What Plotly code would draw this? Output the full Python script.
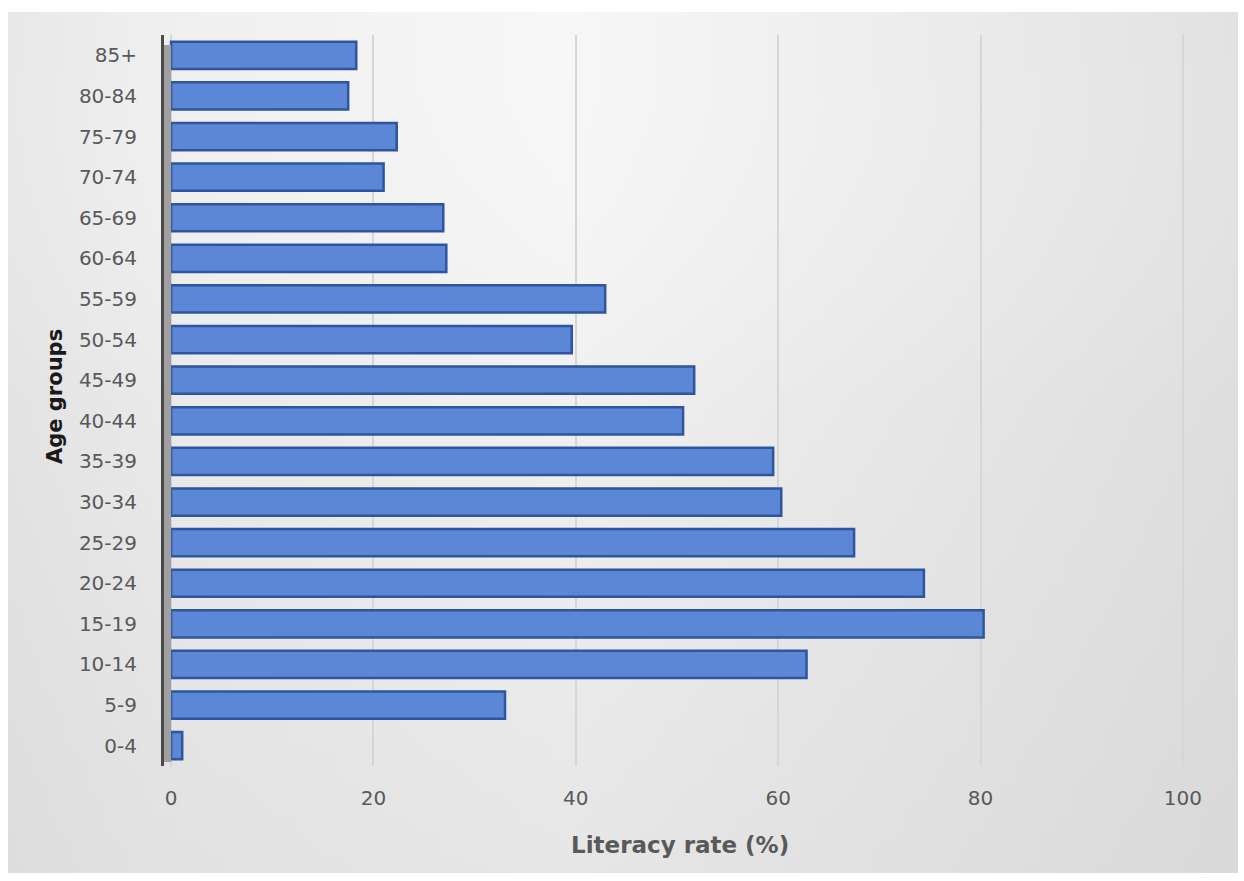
import plotly.graph_objects as go

age_groups = ["0-4", "5-9", "10-14", "15-19", "20-24", "25-29", "30-34", "35-39",
              "40-44", "45-49", "50-54", "55-59", "60-64", "65-69", "70-74", "75-79",
              "80-84", "85+"]
literacy_rate = [1.1, 33.0, 62.8, 80.3, 74.4, 67.5, 60.3, 59.5, 50.6, 51.7, 39.6,
                 42.9, 27.2, 26.9, 21.0, 22.3, 17.5, 18.3]
x_ticks = [0, 20, 40, 60, 80, 100]

W, H = 1244, 881
FONT = "DejaVu Sans, Liberation Sans, sans-serif"

# plot area in pixels
PL, PR, PT, PB = 164, 1188, 35, 766
# chart-area background in pixels
BL, BR, BT, BB = 8, 1238, 12, 873

fig = go.Figure()

# background chart area with gradient (decoration on a full-figure subplot drawn first)
fig.add_trace(go.Scatter(
    x=[BL, BR, BR, BL, BL], y=[BT, BT, BB, BB, BT], xaxis="x", yaxis="y",
    mode="lines", line=dict(width=0), fill="toself",
    fillgradient=dict(type="horizontal",
                      colorscale=[[0, "#e8e8e8"], [0.12, "#efefef"], [0.45, "#f7f7f7"],
                                  [0.75, "#ececec"], [1, "#e2e2e2"]]),
    hoverinfo="skip", showlegend=False,
))
fig.add_trace(go.Scatter(
    x=[BL, BR, BR, BL, BL], y=[BT, BT, BB, BB, BT], xaxis="x", yaxis="y",
    mode="lines", line=dict(width=0), fill="toself",
    fillgradient=dict(type="vertical",
                      colorscale=[[0, "rgba(200,200,200,0.35)"], [0.55, "rgba(200,200,200,0.15)"],
                                  [1, "rgba(255,255,255,0)"]]),
    hoverinfo="skip", showlegend=False,
))

fig.add_trace(go.Bar(
    y=age_groups, x=literacy_rate, orientation="h", xaxis="x2", yaxis="y2",
    marker=dict(color="#5B87D6", line=dict(color="#2E559E", width=2.5)),
    hoverinfo="x+y", showlegend=False,
))

fig.update_layout(
    width=W, height=H,
    margin=dict(l=0, r=0, t=0, b=0),
    paper_bgcolor="white",
    plot_bgcolor="rgba(0,0,0,0)",
    bargap=0.33,
    showlegend=False,
    font=dict(family=FONT, color="#595959", size=20),
    xaxis=dict(domain=[0, 1], range=[0, W], visible=False, fixedrange=True, automargin=False),
    yaxis=dict(domain=[0, 1], range=[H, 0], visible=False, fixedrange=True, automargin=False),
    xaxis2=dict(
        domain=[PL / W, PR / W], anchor="y2", automargin=False,
        range=[-0.7, 100.5], tickvals=x_ticks, ticktext=[str(v) for v in x_ticks],
        showgrid=True, gridcolor="#d6d6d6", gridwidth=1.5, zeroline=False,
        ticks="", ticklabelstandoff=18, showline=False,
        tickfont=dict(size=20, color="#595959"),
    ),
    yaxis2=dict(
        domain=[1 - PB / H, 1 - PT / H], anchor="x2", automargin=False,
        categoryorder="array", categoryarray=age_groups,
        range=[-0.5, 17.5],
        showgrid=False, zeroline=False, ticks="",
        showline=True, linecolor="#4a4a4a", linewidth=3,
        ticklabelstandoff=20,
        tickfont=dict(size=20, color="#595959"),
    ),
    shapes=[
        dict(type="rect", xref="x2", yref="paper", layer="above",
             x0=-0.7, x1=0, y0=1 - 762 / H, y1=1 - 45 / H,
             fillcolor="#a0a0a0", line=dict(width=0)),
    ],
    annotations=[
        dict(text="<b>Literacy rate (%)</b>", xref="paper", yref="paper",
             x=680 / W, y=1 - 845 / H, xanchor="center", yanchor="middle", showarrow=False,
             font=dict(size=23, color="#595959", family=FONT)),
        dict(text="<b>Age groups</b>", xref="paper", yref="paper",
             x=55 / W, y=1 - 397 / H, xanchor="center", yanchor="middle",
             showarrow=False, textangle=-90,
             font=dict(size=21, color="#1a1a1a", family=FONT)),
    ],
)

fig.write_html("out.html")
